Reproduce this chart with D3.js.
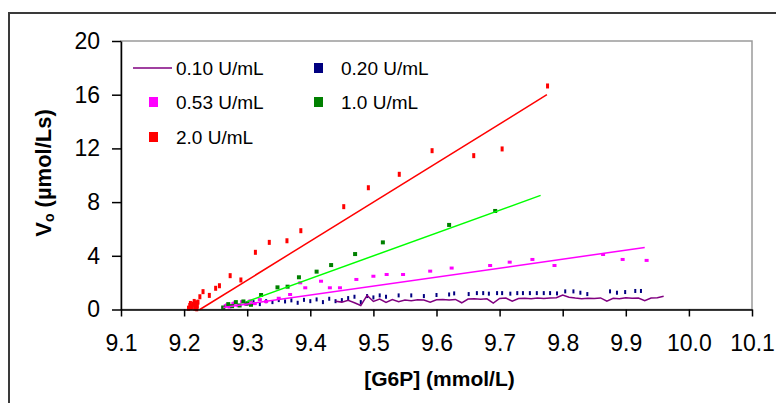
<!DOCTYPE html>
<html>
<head>
<meta charset="utf-8">
<script src="https://cdn.jsdelivr.net/npm/d3@7"></script>
<style>
  html, body { margin: 0; padding: 0; background: #fff; }
  svg { display: block; font-family: Arial, "Liberation Sans", sans-serif; }
</style>
</head>
<body>
<svg id="chart" width="776" height="403"></svg>
<script>
// ---- data ----
const xTicks = [9.1, 9.2, 9.3, 9.4, 9.5, 9.6, 9.7, 9.8, 9.9, 10.0, 10.1];
const yTicks = [0, 4, 8, 12, 16, 20];

// 0.10 U/mL, drawn as a connected line
const s010x = [9.44, 9.45, 9.46, 9.47, 9.48, 9.49, 9.50, 9.51, 9.52, 9.53, 9.54, 9.55, 9.56, 9.57, 9.58, 9.59, 9.60, 9.61, 9.62, 9.63, 9.64, 9.65, 9.66, 9.67, 9.68, 9.69, 9.70, 9.71, 9.72, 9.73, 9.74, 9.75, 9.76, 9.77, 9.78, 9.79, 9.80, 9.81, 9.82, 9.83, 9.84, 9.85, 9.86, 9.87, 9.88, 9.89, 9.90, 9.91, 9.92, 9.93, 9.94, 9.95, 9.96];
const s010y = [0.62, 0.55, 0.68, 0.50, 0.30, 1.05, 0.60, 0.78, 0.52, 0.74, 0.58, 0.70, 0.66, 0.72, 0.70, 0.55, 0.72, 0.74, 0.70, 0.75, 0.50, 0.78, 0.80, 0.76, 0.80, 0.48, 0.82, 0.85, 0.62, 0.82, 0.84, 0.80, 0.86, 0.82, 0.86, 0.88, 1.08, 0.92, 0.85, 0.80, 0.84, 0.82, 0.86, 0.62, 0.84, 0.80, 0.88, 0.84, 0.86, 0.66, 0.86, 0.88, 0.98];

// 0.20 U/mL
const s020x = [9.30, 9.31, 9.32, 9.33, 9.34, 9.35, 9.36, 9.37, 9.38, 9.39, 9.40, 9.41, 9.42, 9.43, 9.44, 9.45, 9.46, 9.47, 9.48, 9.49, 9.50, 9.51, 9.52, 9.54, 9.56, 9.58, 9.60, 9.62, 9.628, 9.651, 9.664, 9.674, 9.683, 9.696, 9.704, 9.717, 9.728, 9.737, 9.748, 9.759, 9.770, 9.780, 9.791, 9.804, 9.817, 9.828, 9.839, 9.875, 9.886, 9.899, 9.915, 9.924];
const s020y = [0.45, 0.55, 0.40, 0.62, 0.55, 0.70, 0.60, 0.68, 0.50, 0.72, 0.62, 0.75, 0.55, 0.80, 0.62, 0.70, 0.85, 0.95, 0.55, 1.00, 0.90, 1.05, 0.95, 1.05, 1.05, 1.00, 1.08, 1.12, 1.20, 1.15, 1.22, 1.22, 1.18, 1.22, 1.22, 1.18, 1.22, 1.22, 1.22, 1.22, 1.22, 1.22, 1.20, 1.35, 1.35, 1.25, 1.15, 1.35, 1.25, 1.30, 1.38, 1.38];

// 0.53 U/mL
const s053x = [9.262, 9.266, 9.268, 9.272, 9.274, 9.278, 9.28, 9.286, 9.292, 9.298, 9.305, 9.312, 9.32, 9.33, 9.35, 9.368, 9.384, 9.392, 9.417, 9.431, 9.447, 9.473, 9.50, 9.521, 9.547, 9.59, 9.624, 9.685, 9.716, 9.752, 9.787, 9.864, 9.895, 9.933];
const s053y = [0.10, 0.25, 0.30, 0.15, 0.20, 0.40, 0.45, 0.25, 0.55, 0.35, 0.60, 0.40, 0.70, 0.55, 0.80, 1.08, 1.95, 1.58, 2.07, 1.58, 1.58, 2.20, 2.44, 2.57, 2.57, 2.82, 3.05, 3.24, 3.49, 3.69, 3.24, 4.06, 3.69, 3.62];

// 1.0 U/mL
const s100x = [9.262, 9.27, 9.276, 9.282, 9.288, 9.294, 9.30, 9.306, 9.322, 9.348, 9.364, 9.382, 9.41, 9.433, 9.471, 9.515, 9.62, 9.693];
const s100y = [0.15, 0.40, 0.25, 0.55, 0.30, 0.60, 0.45, 0.35, 1.08, 1.65, 1.70, 2.40, 2.82, 3.31, 4.13, 5.00, 6.30, 7.34];

// 2.0 U/mL
const s200x = [9.207, 9.209, 9.21, 9.211, 9.213, 9.214, 9.216, 9.217, 9.218, 9.219, 9.22, 9.221, 9.222, 9.225, 9.23, 9.24, 9.25, 9.256, 9.273, 9.29, 9.313, 9.335, 9.363, 9.385, 9.453, 9.492, 9.541, 9.593, 9.659, 9.704, 9.776];
const s200y = [0.10, 0.30, 0.45, 0.15, 0.20, 0.40, 0.60, 0.10, 0.35, 0.50, 0.05, 0.25, 0.55, 0.95, 1.33, 1.05, 1.58, 1.77, 2.52, 2.20, 4.26, 5.00, 5.12, 5.87, 7.66, 9.07, 10.07, 11.83, 11.46, 11.96, 16.65];

// linear trend lines (start, end) in data units
const trend053 = [[9.262, 0.15], [9.93, 4.62]];
const trend100 = [[9.30, 0.60], [9.765, 8.50]];
const trend200 = [[9.225, 0.00], [9.775, 16.0]];

const legendNames = ["0.10 U/mL", "0.20 U/mL", "0.53 U/mL", "1.0 U/mL", "2.0 U/mL"];
const legendColors = ["#800080", "#000080", "#ff00ff", "#008000", "#ff0000"];

(function () {
    const svg = d3.select("#chart");
    const margin = { top: 41, left: 121 };
    const W = 631, H = 268.5;

    const x = d3.scaleLinear().domain([9.1, 10.1]).range([0, W]);
    const y = d3.scaleLinear().domain([0, 20]).range([H, 0]);

    // outer chart frame
    svg.append("rect")
        .attr("x", 9).attr("y", 13)
        .attr("width", 800).attr("height", 420)
        .attr("fill", "#fff").attr("stroke", "#3a3a3a").attr("stroke-width", 2);

    const g = svg.append("g")
        .attr("transform", `translate(${margin.left},${margin.top})`);

    // plot area border (grey top / right)
    g.append("rect")
        .attr("width", W).attr("height", H)
        .attr("fill", "#fff").attr("stroke", "#9a9a9a").attr("stroke-width", 1.5);

    const zip = (xs, ys) => xs.map((d, i) => [d, ys[i]]);
    const line = d3.line().x(d => x(d[0])).y(d => y(d[1]));

    // 0.20 points (small dashes)
    g.append("g").selectAll("rect").data(zip(s020x, s020y)).join("rect")
        .attr("x", d => x(d[0]) - 1).attr("y", d => y(d[1]) - 2)
        .attr("width", 2).attr("height", 4).attr("fill", "#000080");

    // 0.53 points
    g.append("g").selectAll("rect").data(zip(s053x, s053y)).join("rect")
        .attr("x", d => x(d[0]) - 2).attr("y", d => y(d[1]) - 2)
        .attr("width", 4).attr("height", 3).attr("fill", "#ff00ff");

    // 1.0 points
    g.append("g").selectAll("rect").data(zip(s100x, s100y)).join("rect")
        .attr("x", d => x(d[0]) - 2).attr("y", d => y(d[1]) - 2)
        .attr("width", 4).attr("height", 4).attr("fill", "#008000");

    // 2.0 points
    g.append("g").selectAll("rect").data(zip(s200x, s200y)).join("rect")
        .attr("x", d => x(d[0]) - 1.5).attr("y", d => y(d[1]) - 2.5)
        .attr("width", 3).attr("height", 5).attr("fill", "#ff0000");

    // 0.10 line
    g.append("path").datum(zip(s010x, s010y))
        .attr("d", line).attr("fill", "none")
        .attr("stroke", "#800080").attr("stroke-width", 1.5);

    // trend lines
    g.append("path").datum(trend053).attr("d", line)
        .attr("stroke", "#ff00ff").attr("stroke-width", 1.5);
    g.append("path").datum(trend100).attr("d", line)
        .attr("stroke", "#00ff00").attr("stroke-width", 1.5);
    g.append("path").datum(trend200).attr("d", line)
        .attr("stroke", "#ff0000").attr("stroke-width", 1.5);

    // axes
    const yAxis = g.append("g").call(d3.axisLeft(y)
        .tickValues(yTicks).tickSize(9).tickPadding(12).tickSizeOuter(0));
    const xAxis = g.append("g")
        .attr("transform", `translate(0,${H})`)
        .call(d3.axisBottom(x).tickValues(xTicks).tickFormat(d3.format(".1f"))
            .tickSize(7).tickPadding(18).tickSizeOuter(0));
    [yAxis, xAxis].forEach(a => {
        a.select(".domain").attr("stroke", "#000").attr("stroke-width", 1.5);
        a.selectAll(".tick line").attr("stroke", "#000").attr("stroke-width", 1.5);
        a.selectAll("text").attr("fill", "#000")
            .style("font-family", "Arial, 'Liberation Sans', sans-serif")
            .style("font-size", "23px");
    });

    // axis titles
    svg.append("text")
        .attr("x", 121 + W / 2 + 3).attr("y", 386)
        .attr("text-anchor", "middle")
        .style("font-size", "21px").style("font-weight", "bold")
        .text("[G6P] (mmol/L)");

    const yt = svg.append("text")
        .attr("transform", "translate(51,173) rotate(-90)")
        .attr("text-anchor", "middle")
        .style("font-size", "22px").style("font-weight", "bold");
    yt.append("tspan").text("V");
    yt.append("tspan").text("o").style("font-size", "14px").attr("dy", 3);
    yt.append("tspan").text(" (µmol/Ls)").attr("dy", -3);

    // legend
    const legPos = [[133, 68], [298, 68], [133, 102], [298, 102], [133, 137]];
    const leg = svg.append("g");
    legendNames.forEach((name, i) => {
        const [lx, ly] = legPos[i];
        if (i === 0) {
            leg.append("line")
                .attr("x1", lx).attr("x2", lx + 39).attr("y1", ly).attr("y2", ly)
                .attr("stroke", legendColors[i]).attr("stroke-width", 1.5);
        } else {
            leg.append("rect")
                .attr("x", lx + 16).attr("y", ly - 5)
                .attr("width", 9).attr("height", 10)
                .attr("fill", legendColors[i]);
        }
        leg.append("text")
            .attr("x", lx + 43).attr("y", ly).attr("dy", "0.35em")
            .style("font-size", "19px").attr("fill", "#000")
            .text(name);
    });
})();
</script>
</body>
</html>
